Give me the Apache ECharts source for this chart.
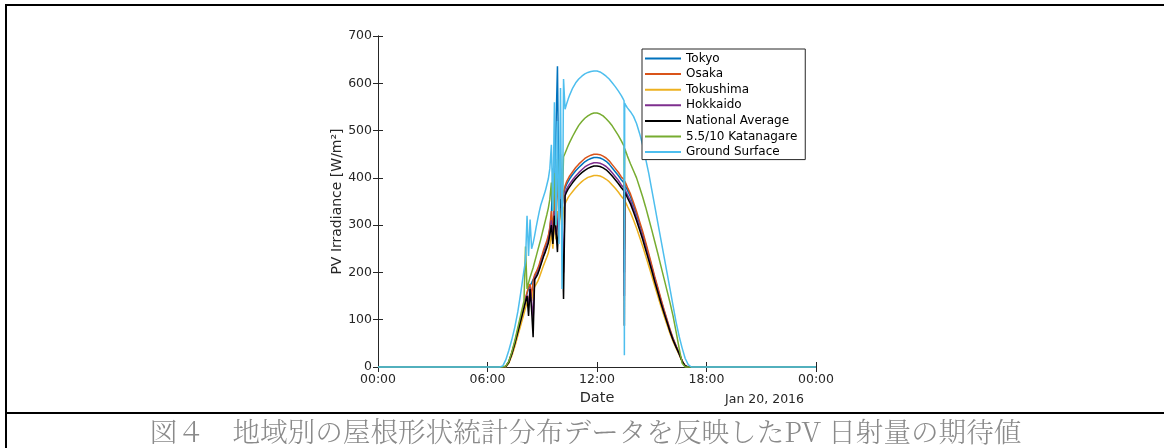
<!DOCTYPE html>
<html>
<head>
<meta charset="utf-8">
<script src="https://cdn.jsdelivr.net/npm/echarts@6/dist/echarts.min.js"></script>
<style>
  html, body { margin: 0; padding: 0; background: #fff; }
  #wrap { position: relative; width: 1164px; height: 448px; overflow: hidden; }
  #chart { position: absolute; left: 0; top: 0; width: 1164px; height: 448px; }
  .rule { position: absolute; background: #000; }
  #caption {
    position: absolute; left: 7px; right: 0; top: 414px; height: 34px;
    text-align: center; line-height: 32px;
    font-family: "Noto Serif CJK JP", "Noto Sans CJK JP", serif;
    font-weight: 300; font-size: 27.6px; color: #8a8a8a; white-space: nowrap;
  }
</style>
</head>
<body>
<div id="wrap">
  <div id="chart"></div>
  <div class="rule" style="left:5px; top:4px; width:1159px; height:2px;"></div>
  <div class="rule" style="left:5px; top:4px; width:2px; height:444px;"></div>
  <div class="rule" style="left:5px; top:412px; width:1159px; height:2px;"></div>
  <div id="caption">図４　地域別の屋根形状統計分布データを反映したPV 日射量の期待値</div>
</div>
<script>
// Sample times (HH:MM) shared by every series
const sampleTimes = [
  "00:00",
  "06:40","06:50","07:00","07:10","07:20","07:30","07:40","07:50","08:00",
  "08:05","08:10","08:15","08:20","08:25","08:30","08:35","08:40","08:45","08:50","08:55","09:00",
  "09:05","09:10","09:15","09:20","09:25","09:30","09:35","09:40","09:45","09:50","09:55","10:00",
  "10:05","10:10","10:15","10:20","10:25","10:30",
  "10:40","10:50","11:00","11:10","11:20","11:30","11:40","11:50","12:00","12:10","12:20","12:30","12:40","12:50","13:00","13:10","13:20",
  "13:25","13:29","13:30","13:31","13:35","13:40","13:50",
  "14:00","14:10","14:20","14:30","14:40","14:50","15:00","15:10","15:20","15:30","15:40",
  "15:50","16:00","16:10","16:20","16:30","16:40","16:50","17:00","17:10","17:20",
  "24:00"
];

// PV irradiance [W/m2], one value per sample time
const tokyo = [
  0,
  0, 0, 1, 11, 29, 52, 78, 104, 130,
  143, 155, 166, 172, 178, 180, 192, 198, 205, 214, 224, 234,
  245, 254, 263, 274, 292, 320, 420, 350, 500, 636, 330, 420,
  340, 365, 378, 386, 392, 398,
  407, 415, 422, 428, 434, 438, 441, 443, 443, 442, 439, 435, 429, 421, 413, 405, 396,
  392, 389, 200, 386, 382, 374, 360,
  342, 323, 303, 282, 259, 236, 212, 188, 165, 142, 120,
  99, 78, 60, 44, 29, 12, 2, 0, 0, 0,
  0
];
const osaka = [
  0,
  0, 0, 1, 11, 30, 53, 80, 106, 132,
  146, 158, 170, 175, 150, 182, 195, 201, 208, 217, 228, 238,
  249, 258, 267, 278, 296, 330, 285, 365, 300, 395, 340, 380,
  330, 370, 383, 392, 398, 404,
  413, 422, 429, 435, 441, 445, 448, 450, 450, 449, 446, 442, 436, 428, 420, 412, 402,
  398, 396, 250, 393, 388, 380, 366,
  348, 329, 308, 287, 264, 240, 216, 191, 168, 145, 122,
  101, 80, 61, 45, 30, 13, 2, 0, 0, 0,
  0
];
const tokushima = [
  0,
  0, 0, 0, 8, 24, 44, 67, 90, 113,
  125, 136, 147, 152, 140, 158, 170, 175, 181, 189, 198, 207,
  216, 224, 232, 241, 258, 285, 250, 310, 270, 330, 300, 340,
  290, 335, 345, 352, 358, 363,
  371, 379, 386, 392, 397, 401, 403, 405, 405, 404, 401, 397, 392, 385, 378, 370, 361,
  357, 354, 260, 352, 347, 340, 327,
  311, 294, 275, 256, 235, 214, 193, 171, 150, 129, 109,
  90, 71, 54, 40, 26, 11, 2, 0, 0, 0,
  0
];
const hokkaido = [
  0,
  0, 0, 1, 10, 28, 51, 76, 102, 127,
  140, 152, 130, 168, 140, 100, 188, 193, 199, 208, 218, 228,
  238, 247, 256, 266, 284, 310, 270, 330, 280, 300, 335, 360,
  310, 200, 368, 376, 382, 387,
  396, 404, 411, 417, 423, 427, 430, 432, 432, 431, 428, 424, 418, 411, 403, 395, 385,
  381, 378, 150, 376, 371, 364, 351,
  334, 315, 295, 275, 252, 230, 207, 183, 161, 138, 117,
  97, 76, 58, 43, 28, 12, 2, 0, 0, 0,
  0
];
const nationalAverage = [
  0,
  0, 0, 1, 10, 28, 50, 75, 100, 125,
  138, 150, 108, 165, 120, 63, 185, 190, 196, 205, 215, 225,
  235, 243, 252, 262, 280, 300, 260, 320, 290, 243, 330, 355,
  300, 144, 362, 370, 376, 381,
  390, 398, 405, 411, 416, 420, 423, 425, 425, 424, 421, 417, 411, 404, 396, 388, 379,
  375, 372, 87, 370, 365, 358, 345,
  328, 310, 290, 270, 248, 226, 204, 180, 158, 136, 115,
  95, 75, 57, 42, 28, 12, 2, 0, 0, 0,
  0
];
const katanagare = [
  0,
  0, 0, 2, 12, 32, 56, 84, 112, 140,
  255, 165, 178, 190, 200, 210, 222, 234, 246, 258, 270, 283,
  296, 309, 322, 336, 355, 390, 330, 410, 300, 440, 350, 450,
  330, 445, 452, 460, 468, 475,
  488, 500, 511, 519, 526, 531, 535, 537, 537, 535, 531, 525, 518, 510, 500, 490, 478,
  472, 467, 380, 462, 455, 446, 430,
  415, 400, 380, 360, 338, 314, 290, 265, 240, 214, 188,
  162, 136, 108, 75, 40, 8, 0, 0, 0, 0,
  0
];
const groundSurface = [
  0,
  0, 2, 15, 35, 58, 85, 118, 160, 205,
  225, 320, 235, 312, 250, 262, 278, 296, 312, 328, 342, 352,
  362, 372, 385, 398, 420, 470, 330, 560, 300, 520, 260, 590,
  165, 609, 545, 556, 566, 575,
  590, 601, 609, 615, 620, 623, 625, 626, 626, 624, 620, 615, 609, 601, 593, 584, 574,
  568, 563, 25, 558, 553, 548, 540,
  530, 515, 494, 470, 440, 410, 375, 340, 305, 270, 235,
  200, 165, 130, 95, 65, 40, 18, 5, 0, 0,
  0
];

const seriesNames = ["Tokyo", "Osaka", "Tokushima", "Hokkaido", "National Average", "5.5/10 Katanagare", "Ground Surface"];
const seriesValues = [tokyo, osaka, tokushima, hokkaido, nationalAverage, katanagare, groundSurface];
const seriesColors = ["#0072BD", "#D95319", "#EDB120", "#7E2F8E", "#000000", "#77AC30", "#4DBEEE"];

const xTickLabels = ["00:00", "06:00", "12:00", "18:00", "00:00"];
const yTicks = [0, 100, 200, 300, 400, 500, 600, 700];
const dateStamp = "Jan 20, 2016";

function toMinutes(hhmm) {
  const p = hhmm.split(":");
  return Number(p[0]) * 60 + Number(p[1]);
}
const minutes = sampleTimes.map(toMinutes);

const FONT = "DejaVu Sans";
const AXIS = "#262626";

const grid = { left: 378, top: 36, width: 438, height: 331 };

const series = seriesNames.map((name, i) => ({
  name: name,
  type: "line",
  data: minutes.map((m, k) => [m, seriesValues[i][k]]),
  showSymbol: false,
  symbol: "none",
  clip: false,
  color: seriesColors[i],
  lineStyle: { width: 1.5, color: seriesColors[i] },
  emphasis: { disabled: true },
  animation: false
}));

const chart = echarts.init(document.getElementById("chart"), null, { renderer: "canvas" });
chart.setOption({
  animation: false,
  backgroundColor: "transparent",
  grid: grid,
  textStyle: { fontFamily: FONT },
  legend: {
    orient: "vertical",
    left: 642,
    top: 49,
    data: seriesNames,
    icon: "rect",
    itemWidth: 36,
    itemHeight: 2,
    itemGap: 0.6,
    padding: [2, 8, 0, 3],
    backgroundColor: "#ffffff",
    borderColor: AXIS,
    borderWidth: 1,
    borderRadius: 0,
    selectedMode: false,
    textStyle: { fontFamily: FONT, fontSize: 12, color: "#000", lineHeight: 15 }
  },
  xAxis: [
    {
      type: "value", min: 0, max: 1440, interval: 360, position: "bottom",
      name: "Date", nameLocation: "middle", nameGap: 23,
      nameTextStyle: { fontFamily: FONT, fontSize: 14.5, color: AXIS },
      axisLine: { show: true, lineStyle: { color: AXIS, width: 1 } },
      axisTick: { show: true, inside: true, length: 5, lineStyle: { color: AXIS } },
      axisLabel: {
        margin: 6, fontFamily: FONT, fontSize: 12.5, color: AXIS,
        formatter: v => xTickLabels[Math.round(v / 360)]
      },
      splitLine: { show: false }
    },
    {
      type: "value", min: 0, max: 1440, interval: 360, position: "top",
      axisLine: { show: true, lineStyle: { color: AXIS, width: 1 } },
      axisTick: { show: true, inside: true, length: 5, lineStyle: { color: AXIS } },
      axisLabel: { show: false },
      splitLine: { show: false }
    }
  ],
  yAxis: [
    {
      type: "value", min: 0, max: 700, interval: 100, position: "left",
      name: "PV Irradiance [W/m²]", nameLocation: "middle", nameGap: 33, nameRotate: 90,
      nameTextStyle: { fontFamily: FONT, fontSize: 14, color: AXIS },
      axisLine: { show: true, lineStyle: { color: AXIS, width: 1 } },
      axisTick: { show: true, inside: true, length: 5, lineStyle: { color: AXIS } },
      axisLabel: {
        margin: 6, fontFamily: FONT, fontSize: 12.5, color: AXIS,
        formatter: v => (yTicks.indexOf(v) >= 0 ? String(v) : "")
      },
      splitLine: { show: false }
    },
    {
      type: "value", min: 0, max: 700, interval: 100, position: "right",
      axisLine: { show: true, lineStyle: { color: AXIS, width: 1 } },
      axisTick: { show: true, inside: true, length: 5, lineStyle: { color: AXIS } },
      axisLabel: { show: false },
      splitLine: { show: false }
    }
  ],
  graphic: [
    {
      type: "text",
      right: 1164 - 804,
      top: 393,
      style: { text: dateStamp, fontFamily: FONT, fontSize: 12.5, fill: AXIS }
    }
  ],
  series: series
});
</script>
</body>
</html>
